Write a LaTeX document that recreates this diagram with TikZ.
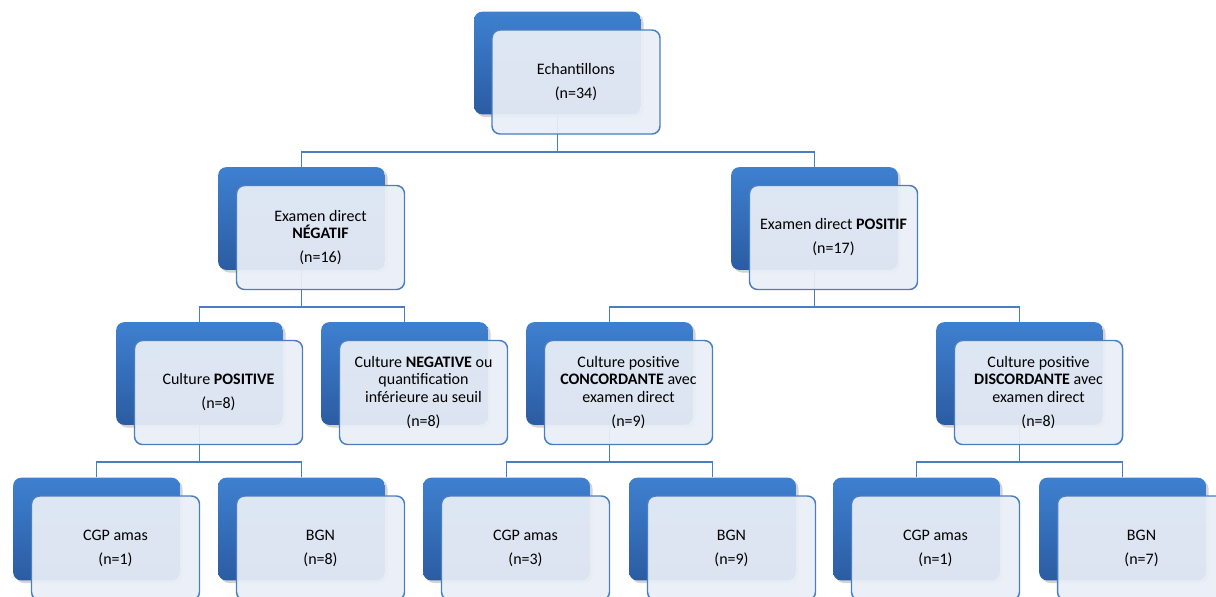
\documentclass[tikz,border=0pt]{standalone}
\usepackage{fontspec}
\setmainfont{Carlito}
\usetikzlibrary{shadows}
\definecolor{backtop}{HTML}{3E80D0}
\definecolor{backbot}{HTML}{2B5CA2}
\definecolor{frontfill}{HTML}{EAEFF7}
\definecolor{edge}{HTML}{4A7EBE}
\begin{document}
\begin{tikzpicture}[x=0.75pt,y=-0.75pt,
  back/.style={rounded corners=6pt,minimum width=125pt,minimum height=77pt,top color=backtop,bottom color=backbot,
    drop shadow={opacity=0.35,shadow xshift=2pt,shadow yshift=-2pt}},
  front/.style={rounded corners=6pt,minimum width=126pt,minimum height=78pt,draw=edge,line width=1.1pt,
    fill=frontfill,fill opacity=0.93,text opacity=1,align=center,font=\fontsize{12}{13}\selectfont},
  link/.style={draw=edge,line width=1pt}]

       \useasboundingbox (0,0) rectangle (1216,596);
       \clip (0,0) rectangle (1216,596);

       % back boxes
       \node[back] (ech-b) at (557.5,63) {};
       \node[back] (neg-b) at (301.5,218.5) {};
       \node[back] (pos-b) at (814.5,218.5) {};
       \node[back] (cpos-b) at (199.5,373.5) {};
       \node[back] (cneg-b) at (404.5,373.5) {};
       \node[back] (conc-b) at (609.5,373.5) {};
       \node[back] (disc-b) at (1019.5,373.5) {};
       \node[back] (cgp1-b) at (96.5,529) {};
       \node[back] (bgn1-b) at (301.5,529) {};
       \node[back] (cgp2-b) at (506.5,529) {};
       \node[back] (bgn2-b) at (712.5,529) {};
       \node[back] (cgp3-b) at (916.5,529) {};
       \node[back] (bgn3-b) at (1122.5,529) {};

       % links
       \coordinate (j1) at (557.5,152);
       \coordinate (j2) at (301.5,307);
       \coordinate (j3) at (814.5,307);
       \coordinate (j4) at (199.5,462);
       \coordinate (j5) at (609.5,462);
       \coordinate (j6) at (1019.5,462);
       \draw[link] (ech-b.south) -- (j1) -| (neg-b.north);
       \draw[link] (j1) -| (pos-b.north);
       \draw[link] (neg-b.south) -- (j2) -| (cpos-b.north);
       \draw[link] (j2) -| (cneg-b.north);
       \draw[link] (pos-b.south) -- (j3) -| (conc-b.north);
       \draw[link] (j3) -| (disc-b.north);
       \draw[link] (cpos-b.south) -- (j4) -| (cgp1-b.north);
       \draw[link] (j4) -| (bgn1-b.north);
       \draw[link] (conc-b.south) -- (j5) -| (cgp2-b.north);
       \draw[link] (j5) -| (bgn2-b.north);
       \draw[link] (disc-b.south) -- (j6) -| (cgp3-b.north);
       \draw[link] (j6) -| (bgn3-b.north);

       % front boxes
       \node[front] (ech) at (576,82) {Echantillons\\[5pt](n=34)};
       \node[front] (neg) at (320.5,237.5) {Examen direct\\\textbf{NÉGATIF}\\[5pt](n=16)};
       \node[front] (pos) at (833.5,237.5) {Examen direct \textbf{POSITIF}\\[5pt](n=17)};
       \node[front] (cpos) at (218.5,392.5) {Culture \textbf{POSITIVE}\\[5pt](n=8)};
       \node[front] (cneg) at (423.5,392.5) {Culture \textbf{NEGATIVE} ou\\quantification\\inférieure au seuil\\[5pt](n=8)};
       \node[front] (conc) at (628.5,392.5) {Culture positive\\\textbf{CONCORDANTE} avec\\examen direct\\[5pt](n=9)};
       \node[front] (disc) at (1038.5,392.5) {Culture positive\\\textbf{DISCORDANTE} avec\\examen direct\\[5pt](n=8)};
       \node[front] (cgp1) at (115.5,548) {CGP amas\\[5pt](n=1)};
       \node[front] (bgn1) at (320.5,548) {BGN\\[5pt](n=8)};
       \node[front] (cgp2) at (525.5,548) {CGP amas\\[5pt](n=3)};
       \node[front] (bgn2) at (731.5,548) {BGN\\[5pt](n=9)};
       \node[front] (cgp3) at (935.5,548) {CGP amas\\[5pt](n=1)};
       \node[front] (bgn3) at (1141.5,548) {BGN\\[5pt](n=7)};
     \end{tikzpicture}
\end{document}
